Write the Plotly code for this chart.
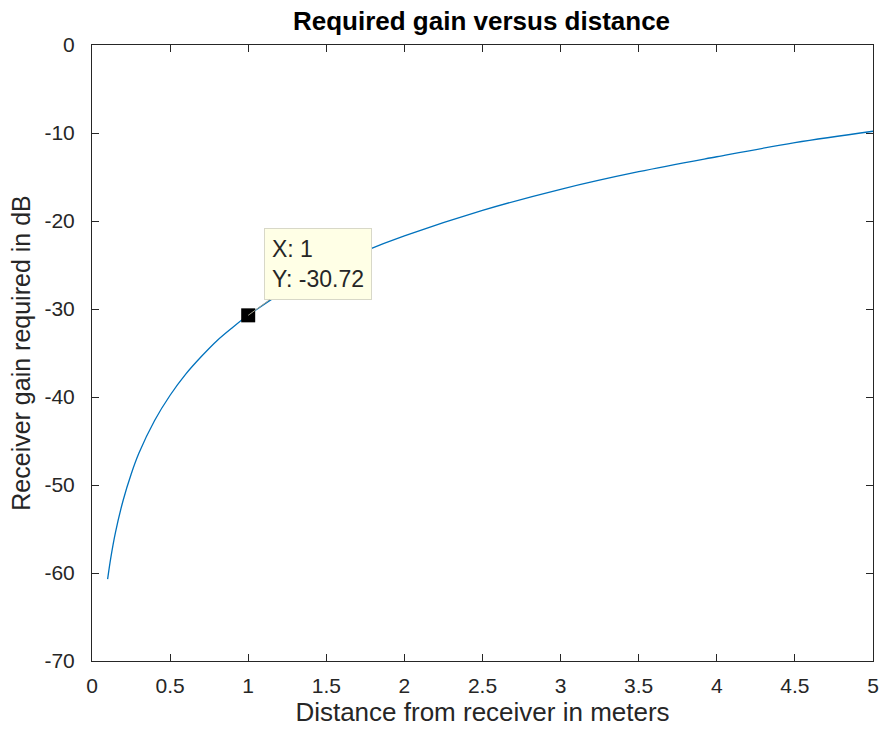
import plotly.graph_objects as go

# Distance (m) and required gain (dB)
distance = [0.1, 0.12, 0.15, 0.2, 0.25, 0.3, 0.4, 0.5, 0.6, 0.7, 0.8, 0.9, 1.0,
            1.25, 1.5, 1.75, 2.0, 2.5, 3.0, 3.5, 4.0, 4.5, 5.0]
gain_db = [-60.7, -58.3, -55.4, -51.7, -48.8, -46.4, -42.7, -39.8, -37.4, -35.4,
           -33.6, -32.1, -30.72, -27.8, -25.4, -23.4, -21.7, -18.8, -16.4, -14.4,
           -12.7, -11.1, -9.8]

marker_x = [1]
marker_y = [-30.72]

x_ticks = [0, 0.5, 1, 1.5, 2, 2.5, 3, 3.5, 4, 4.5, 5]
y_ticks = [0, -10, -20, -30, -40, -50, -60, -70]

font = "Liberation Sans, Arial, sans-serif"
axcol = "#262626"

fig = go.Figure()
fig.add_trace(go.Scatter(x=distance, y=gain_db, mode="lines",
                         line=dict(color="#0072BD", width=1.3, shape="spline"),
                         hoverinfo="skip", showlegend=False))
fig.add_trace(go.Scatter(x=marker_x, y=marker_y, mode="markers",
                         marker=dict(symbol="square", size=14, color="black"),
                         showlegend=False))

fig.add_annotation(x=marker_x[0], y=marker_y[0], xref="x", yref="y",
                   text="X: 1<br>Y: -30.72", align="left",
                   showarrow=True, arrowhead=0, arrowwidth=1, arrowcolor="#a0a090",
                   ax=70, ay=-51,
                   font=dict(family=font, size=23, color="#262626"),
                   bgcolor="#ffffe6", bordercolor="#d8d8c8", borderwidth=1, borderpad=7)

axis_common = dict(showline=True, linecolor=axcol, linewidth=1, mirror="ticks",
                   ticks="inside", ticklen=7, tickcolor=axcol, showgrid=False,
                   zeroline=False, tickfont=dict(family=font, size=21, color=axcol))

fig.update_layout(
    width=883, height=738,
    margin=dict(l=92, r=10, t=45, b=77, autoexpand=False),
    paper_bgcolor="white", plot_bgcolor="white",
    title=dict(text="<b>Required gain versus distance</b>", x=481.5 / 883, xanchor="center",
               y=1 - 21 / 738, yanchor="middle",
               font=dict(family=font, size=26, color="black")),
    xaxis=dict(range=[0, 5], tickvals=x_ticks,
               ticktext=[str(t) for t in x_ticks], automargin=False,
               ticklabelstandoff=6,
               title=dict(text="Distance from receiver in meters", standoff=4,
                          font=dict(family=font, size=26, color=axcol)),
               **axis_common),
    yaxis=dict(range=[-70, 0], tickvals=y_ticks,
               ticktext=[str(t) for t in y_ticks], automargin=False,
               ticklabelstandoff=12,
               title=dict(text="Receiver gain required in dB", standoff=6,
                          font=dict(family=font, size=25, color=axcol)),
               **axis_common),
)

fig.write_html("out.html")
